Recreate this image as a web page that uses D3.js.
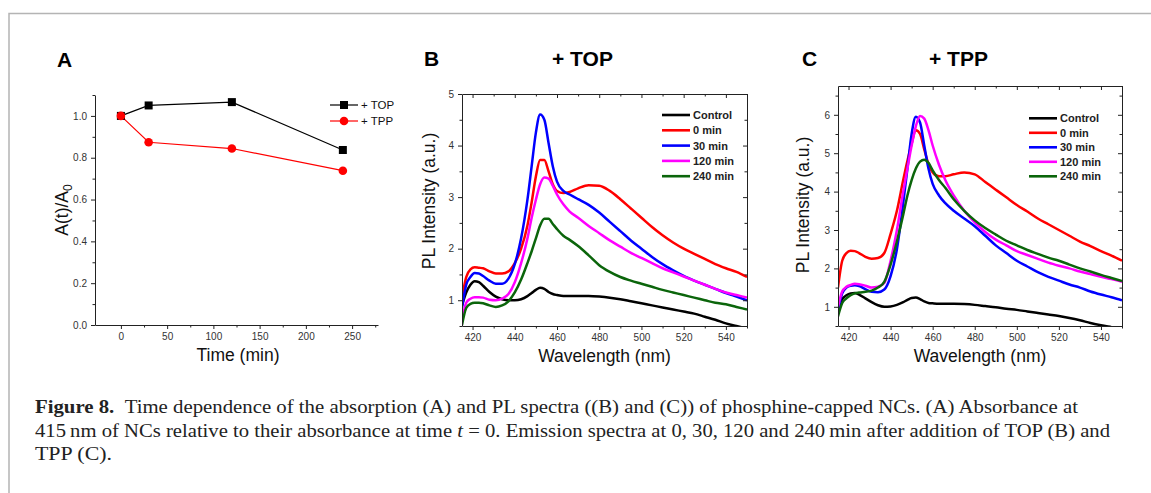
<!DOCTYPE html>
<html><head><meta charset="utf-8">
<script src="https://cdn.jsdelivr.net/npm/d3@7"></script>
<style>body{margin:0;background:#fff} svg{display:block} .sans{font-family:Arial,"Liberation Sans",sans-serif}</style>
</head><body><svg id="c" width="1151" height="493"></svg>
<script>
// ---------- Panel A data ----------
const timeMin = [0, 30, 120, 240];
const absTOP = [1.0, 1.05, 1.066, 0.837];
const absTPP = [1.0, 0.874, 0.844, 0.738];
const timeTicks = [0, 50, 100, 150, 200, 250];
const ratioTicks = [0.0, 0.2, 0.4, 0.6, 0.8, 1.0];

// ---------- Spectra (shared wavelength grid) ----------
const wavelength = [415,417,419,421,423,425,428,431,434,437,440,443,446,448,450,452,454,456,458,460,463,466,470,475,480,485,490,495,500,505,510,515,520,525,530,535,540,545,550];
const wlTicks = [420, 440, 460, 480, 500, 520, 540];
const seriesNames = ["Control", "0 min", "30 min", "120 min", "240 min"];

// Panel B (+ TOP)
const topControl = [0.9,1.15,1.3,1.37,1.35,1.28,1.16,1.07,1.02,1.0,1.0,1.02,1.08,1.14,1.2,1.24,1.22,1.16,1.12,1.1,1.08,1.08,1.08,1.08,1.07,1.05,1.02,0.98,0.94,0.9,0.86,0.82,0.78,0.74,0.68,0.62,0.55,0.5,0.45];
const top0 = [1.05,1.45,1.6,1.64,1.63,1.62,1.56,1.52,1.52,1.56,1.72,2.0,2.45,2.9,3.4,3.72,3.72,3.5,3.25,3.12,3.08,3.1,3.17,3.23,3.22,3.12,2.96,2.78,2.6,2.42,2.26,2.12,2.0,1.9,1.8,1.7,1.62,1.55,1.45];
const top30 = [0.85,1.3,1.45,1.53,1.52,1.47,1.38,1.32,1.32,1.42,1.7,2.2,2.95,3.6,4.25,4.6,4.5,4.05,3.6,3.3,3.12,3.05,2.96,2.85,2.7,2.52,2.34,2.16,2.0,1.84,1.7,1.58,1.47,1.38,1.3,1.22,1.14,1.07,1.0];
const top120 = [0.6,0.95,1.03,1.06,1.06,1.05,1.01,1.0,1.03,1.12,1.35,1.72,2.2,2.6,2.95,3.25,3.38,3.36,3.22,3.05,2.86,2.72,2.6,2.44,2.3,2.16,2.04,1.92,1.82,1.72,1.62,1.54,1.46,1.38,1.3,1.22,1.15,1.1,1.05];
const top240 = [0.52,0.85,0.93,0.95,0.95,0.94,0.9,0.87,0.9,0.98,1.15,1.4,1.72,1.95,2.2,2.45,2.58,2.58,2.48,2.38,2.25,2.17,2.05,1.87,1.68,1.55,1.45,1.38,1.32,1.26,1.2,1.15,1.1,1.05,1.0,0.95,0.92,0.87,0.82];
const topTicks = [1, 2, 3, 4, 5];

// Panel C (+ TPP)
const tppControl = [0.95,1.2,1.3,1.35,1.36,1.32,1.22,1.12,1.04,1.0,1.01,1.05,1.12,1.18,1.23,1.24,1.2,1.14,1.1,1.09,1.08,1.08,1.08,1.07,1.05,1.02,0.99,0.95,0.92,0.88,0.84,0.8,0.76,0.71,0.65,0.58,0.52,0.47,0.42];
const tpp0 = [1.5,2.2,2.4,2.46,2.45,2.4,2.3,2.25,2.27,2.4,2.9,3.5,4.3,4.8,5.25,5.6,5.5,5.1,4.72,4.5,4.4,4.4,4.45,4.5,4.45,4.25,4.05,3.85,3.65,3.48,3.3,3.15,3.0,2.85,2.7,2.58,2.45,2.33,2.2];
const tpp30 = [0.9,1.35,1.5,1.55,1.56,1.54,1.46,1.39,1.38,1.45,1.8,2.5,3.7,4.6,5.5,5.95,5.8,5.2,4.6,4.2,3.9,3.7,3.5,3.3,3.1,2.85,2.6,2.4,2.2,2.05,1.9,1.78,1.68,1.58,1.5,1.4,1.32,1.25,1.17];
const tpp120 = [1.0,1.4,1.52,1.57,1.6,1.59,1.55,1.5,1.52,1.62,2.2,3.0,4.0,4.6,5.2,5.7,5.97,5.9,5.6,5.2,4.7,4.3,3.9,3.5,3.2,2.95,2.75,2.6,2.45,2.35,2.25,2.15,2.07,2.0,1.92,1.85,1.78,1.72,1.65];
const tpp240 = [0.75,1.1,1.22,1.3,1.35,1.37,1.39,1.42,1.5,1.65,2.1,2.7,3.4,3.9,4.3,4.6,4.78,4.83,4.75,4.55,4.3,4.1,3.8,3.5,3.25,3.05,2.88,2.72,2.6,2.48,2.38,2.28,2.2,2.1,2.0,1.92,1.83,1.75,1.67];
const tppTicks = [1, 2, 3, 4, 5, 6];

const seriesColors = ["#000000", "#ff0000", "#0000ff", "#ff00ff", "#0b650b"];

const svg = d3.select("#c");

// figure frame
svg.append("path").attr("d", "M9,493 V13.5 H1151").attr("fill", "none").attr("stroke", "#b4b4b4").attr("stroke-width", 1.5);

function styleAxis(g) {
  g.selectAll("path").attr("stroke", "#222").attr("stroke-width", 1);
  g.selectAll("line").attr("stroke", "#222").attr("stroke-width", 1);
  g.selectAll("text").attr("font-family", "Arial, 'Liberation Sans', sans-serif").attr("font-size", 10).attr("fill", "#333");
}

// ---------- Panel A ----------
{
  const x = d3.scaleLinear([-28, 278], [95, 378]);
  const y = d3.scaleLinear([0, 1.1], [325, 95]);
  const gx = svg.append("g").attr("transform", "translate(0,325)")
    .call(d3.axisBottom(x).tickValues(timeTicks).tickSize(4).tickSizeOuter(0).tickPadding(4).tickFormat(d3.format("d")));
  styleAxis(gx);
  const gxm = svg.append("g").attr("transform", "translate(0,325)")
    .call(d3.axisBottom(x).tickValues(d3.range(25, 276, 50)).tickSize(2.5).tickSizeOuter(0).tickFormat(""));
  styleAxis(gxm); gxm.select("path").remove();
  const gy = svg.append("g").attr("transform", "translate(95,0)")
    .call(d3.axisLeft(y).tickValues(ratioTicks).tickSize(4).tickSizeOuter(0).tickPadding(4).tickFormat(d3.format(".1f")));
  styleAxis(gy);
  const gym = svg.append("g").attr("transform", "translate(95,0)")
    .call(d3.axisLeft(y).tickValues([0.1, 0.3, 0.5, 0.7, 0.9, 1.1]).tickSize(2.5).tickSizeOuter(0).tickFormat(""));
  styleAxis(gym); gym.select("path").remove();

  const line = d3.line().x((d, i) => x(timeMin[i])).y(d => y(d));
  svg.append("path").datum(absTOP).attr("d", line).attr("fill", "none").attr("stroke", "#000").attr("stroke-width", 1.2);
  svg.append("path").datum(absTPP).attr("d", line).attr("fill", "none").attr("stroke", "#ff0000").attr("stroke-width", 1.2);
  svg.selectAll(".mTOP").data(absTOP).enter().append("rect")
    .attr("x", (d, i) => x(timeMin[i]) - 4).attr("y", d => y(d) - 4).attr("width", 8).attr("height", 8).attr("fill", "#000");
  svg.selectAll(".mTPP").data(absTPP).enter().append("circle")
    .attr("cx", (d, i) => x(timeMin[i])).attr("cy", d => y(d)).attr("r", 4.3).attr("fill", "#ff0000");

  // legend
  const lg = [["+ TOP", "#000", "sq"], ["+ TPP", "#ff0000", "ci"]];
  lg.forEach((l, i) => {
    const yy = 105 + i * 16;
    svg.append("line").attr("x1", 330).attr("x2", 358).attr("y1", yy).attr("y2", yy).attr("stroke", l[1]).attr("stroke-width", 1.2);
    if (l[2] === "sq") svg.append("rect").attr("x", 340).attr("y", yy - 4).attr("width", 8).attr("height", 8).attr("fill", l[1]);
    else svg.append("circle").attr("cx", 344).attr("cy", yy).attr("r", 4.3).attr("fill", l[1]);
    svg.append("text").attr("class", "sans").attr("x", 361).attr("y", yy + 4).attr("font-size", 11.5).attr("fill", "#111").text(l[0]);
  });

  svg.append("text").attr("class", "sans").attr("x", 57).attr("y", 67).attr("font-size", 21).attr("font-weight", "bold").text("A");
  svg.append("text").attr("class", "sans").attr("x", 238).attr("y", 361).attr("text-anchor", "middle").attr("font-size", 17.5).attr("fill", "#111").text("Time (min)");
  const yl = svg.append("text").attr("class", "sans").attr("transform", "translate(68,210) rotate(-90)").attr("text-anchor", "middle").attr("font-size", 17.5).attr("fill", "#111");
  yl.append("tspan").text("A(t)/A");
  yl.append("tspan").attr("font-size", 12).attr("dy", 4).text("0");
}

// ---------- Spectra panels ----------
function spectraPanel(opt) {
  const x = d3.scaleLinear([415, 550], [opt.left, opt.right]);
  const y = d3.scaleLinear(opt.ydom, [opt.bottom, opt.top]);
  const id = "clip" + opt.letter;
  svg.append("clipPath").attr("id", id).append("rect")
    .attr("x", opt.left).attr("y", opt.top).attr("width", opt.right - opt.left).attr("height", opt.bottom - opt.top);

  const line = d3.line().curve(d3.curveMonotoneX).x((d, i) => x(wavelength[i])).y(d => y(d));
  const gl = svg.append("g").attr("clip-path", `url(#${id})`);
  opt.series.forEach((s, k) => {
    gl.append("path").datum(s).attr("d", line).attr("fill", "none").attr("stroke", seriesColors[k]).attr("stroke-width", 2.5).attr("stroke-linejoin", "round");
  });

  const minorX = d3.range(410, 551, 10).filter(v => v >= 415 && v <= 550 && v % 20 !== 0);
  const minorY = d3.range(opt.ydom[0], opt.ydom[1] + 0.001, 0.5).filter(v => Math.abs(v - Math.round(v)) > 0.01);

  const gx = svg.append("g").attr("transform", `translate(0,${opt.bottom})`)
    .call(d3.axisBottom(x).tickValues(wlTicks).tickSize(4).tickSizeOuter(0).tickPadding(4).tickFormat(d3.format("d")));
  styleAxis(gx);
  const gxm = svg.append("g").attr("transform", `translate(0,${opt.bottom})`)
    .call(d3.axisBottom(x).tickValues(minorX).tickSize(2.5).tickFormat(""));
  styleAxis(gxm); gxm.select("path").remove();
  const gt = svg.append("g").attr("transform", `translate(0,${opt.top})`)
    .call(d3.axisBottom(x).tickValues(wlTicks).tickSize(4).tickSizeOuter(0).tickFormat(""));
  styleAxis(gt);
  const gtm = svg.append("g").attr("transform", `translate(0,${opt.top})`)
    .call(d3.axisBottom(x).tickValues(minorX).tickSize(2.5).tickFormat(""));
  styleAxis(gtm); gtm.select("path").remove();

  const gy = svg.append("g").attr("transform", `translate(${opt.left},0)`)
    .call(d3.axisLeft(y).tickValues(opt.yticks).tickSize(4).tickSizeOuter(0).tickPadding(4).tickFormat(d3.format("d")));
  styleAxis(gy);
  const gym = svg.append("g").attr("transform", `translate(${opt.left},0)`)
    .call(d3.axisLeft(y).tickValues(minorY).tickSize(2.5).tickFormat(""));
  styleAxis(gym); gym.select("path").remove();
  const gr = svg.append("g").attr("transform", `translate(${opt.right},0)`)
    .call(d3.axisLeft(y).tickValues(opt.yticks).tickSize(4).tickSizeOuter(0).tickFormat(""));
  styleAxis(gr);
  const grm = svg.append("g").attr("transform", `translate(${opt.right},0)`)
    .call(d3.axisLeft(y).tickValues(minorY).tickSize(2.5).tickFormat(""));
  styleAxis(grm); grm.select("path").remove();

  // legend
  seriesNames.forEach((n, k) => {
    const yy = opt.legY + k * opt.legDy;
    svg.append("line").attr("x1", opt.legX).attr("x2", opt.legX + 28).attr("y1", yy).attr("y2", yy).attr("stroke", seriesColors[k]).attr("stroke-width", 2.6);
    svg.append("text").attr("class", "sans").attr("x", opt.legX + 31).attr("y", yy + 4).attr("font-size", 11).attr("font-weight", "bold").attr("fill", "#222").text(n);
  });

  svg.append("text").attr("class", "sans").attr("x", opt.letterX).attr("y", 66).attr("font-size", 21).attr("font-weight", "bold").text(opt.letter);
  svg.append("text").attr("class", "sans").attr("x", opt.titleX).attr("y", 66).attr("font-size", 21).attr("font-weight", "bold").text(opt.title);
  svg.append("text").attr("class", "sans").attr("x", (opt.left + opt.right) / 2).attr("y", 362).attr("text-anchor", "middle").attr("font-size", 17.5).attr("fill", "#111").text("Wavelength (nm)");
  svg.append("text").attr("class", "sans").attr("transform", `translate(${opt.ylabX},${opt.ylabY}) rotate(-90)`).attr("text-anchor", "middle").attr("font-size", 17.5).attr("fill", "#111").text("PL Intensity (a.u.)");
}

spectraPanel({letter: "B", letterX: 424, title: "+ TOP", titleX: 552, left: 462, right: 747, top: 94, bottom: 326,
  ydom: [0.5, 5], yticks: topTicks, series: [topControl, top0, top30, top120, top240],
  legX: 662, legY: 115, legDy: 15.3, ylabX: 435, ylabY: 201});
spectraPanel({letter: "C", letterX: 802, title: "+ TPP", titleX: 929, left: 838, right: 1122, top: 86, bottom: 326,
  ydom: [0.5, 6.75], yticks: tppTicks, series: [tppControl, tpp0, tpp30, tpp120, tpp240],
  legX: 1029, legY: 118.3, legDy: 14.5, ylabX: 809, ylabY: 205});

// ---------- Caption ----------
const serif = "'Liberation Serif', 'DejaVu Serif', serif";
const c1 = svg.append("text").attr("x", 35).attr("y", 413).attr("font-family", serif).attr("font-size", 18).attr("fill", "#222")
  .attr("textLength", 1043).attr("lengthAdjust", "spacingAndGlyphs");
c1.append("tspan").attr("font-weight", "bold").text("Figure 8.");
c1.append("tspan").text("\u2002Time dependence of the absorption (A) and PL spectra ((B) and (C)) of phosphine-capped NCs. (A) Absorbance at");
const c2 = svg.append("text").attr("x", 35).attr("y", 437).attr("font-family", serif).attr("font-size", 18).attr("fill", "#222")
  .attr("textLength", 1075).attr("lengthAdjust", "spacingAndGlyphs");
c2.append("tspan").text("415\u2009nm of NCs relative to their absorbance at time ");
c2.append("tspan").attr("font-style", "italic").text("t");
c2.append("tspan").text(" = 0. Emission spectra at 0, 30, 120 and 240\u2009min after addition of TOP (B) and");
svg.append("text").attr("x", 35).attr("y", 460).attr("font-family", serif).attr("font-size", 18).attr("fill", "#222")
  .attr("textLength", 77).attr("lengthAdjust", "spacingAndGlyphs").text("TPP (C).");
</script></body></html>
